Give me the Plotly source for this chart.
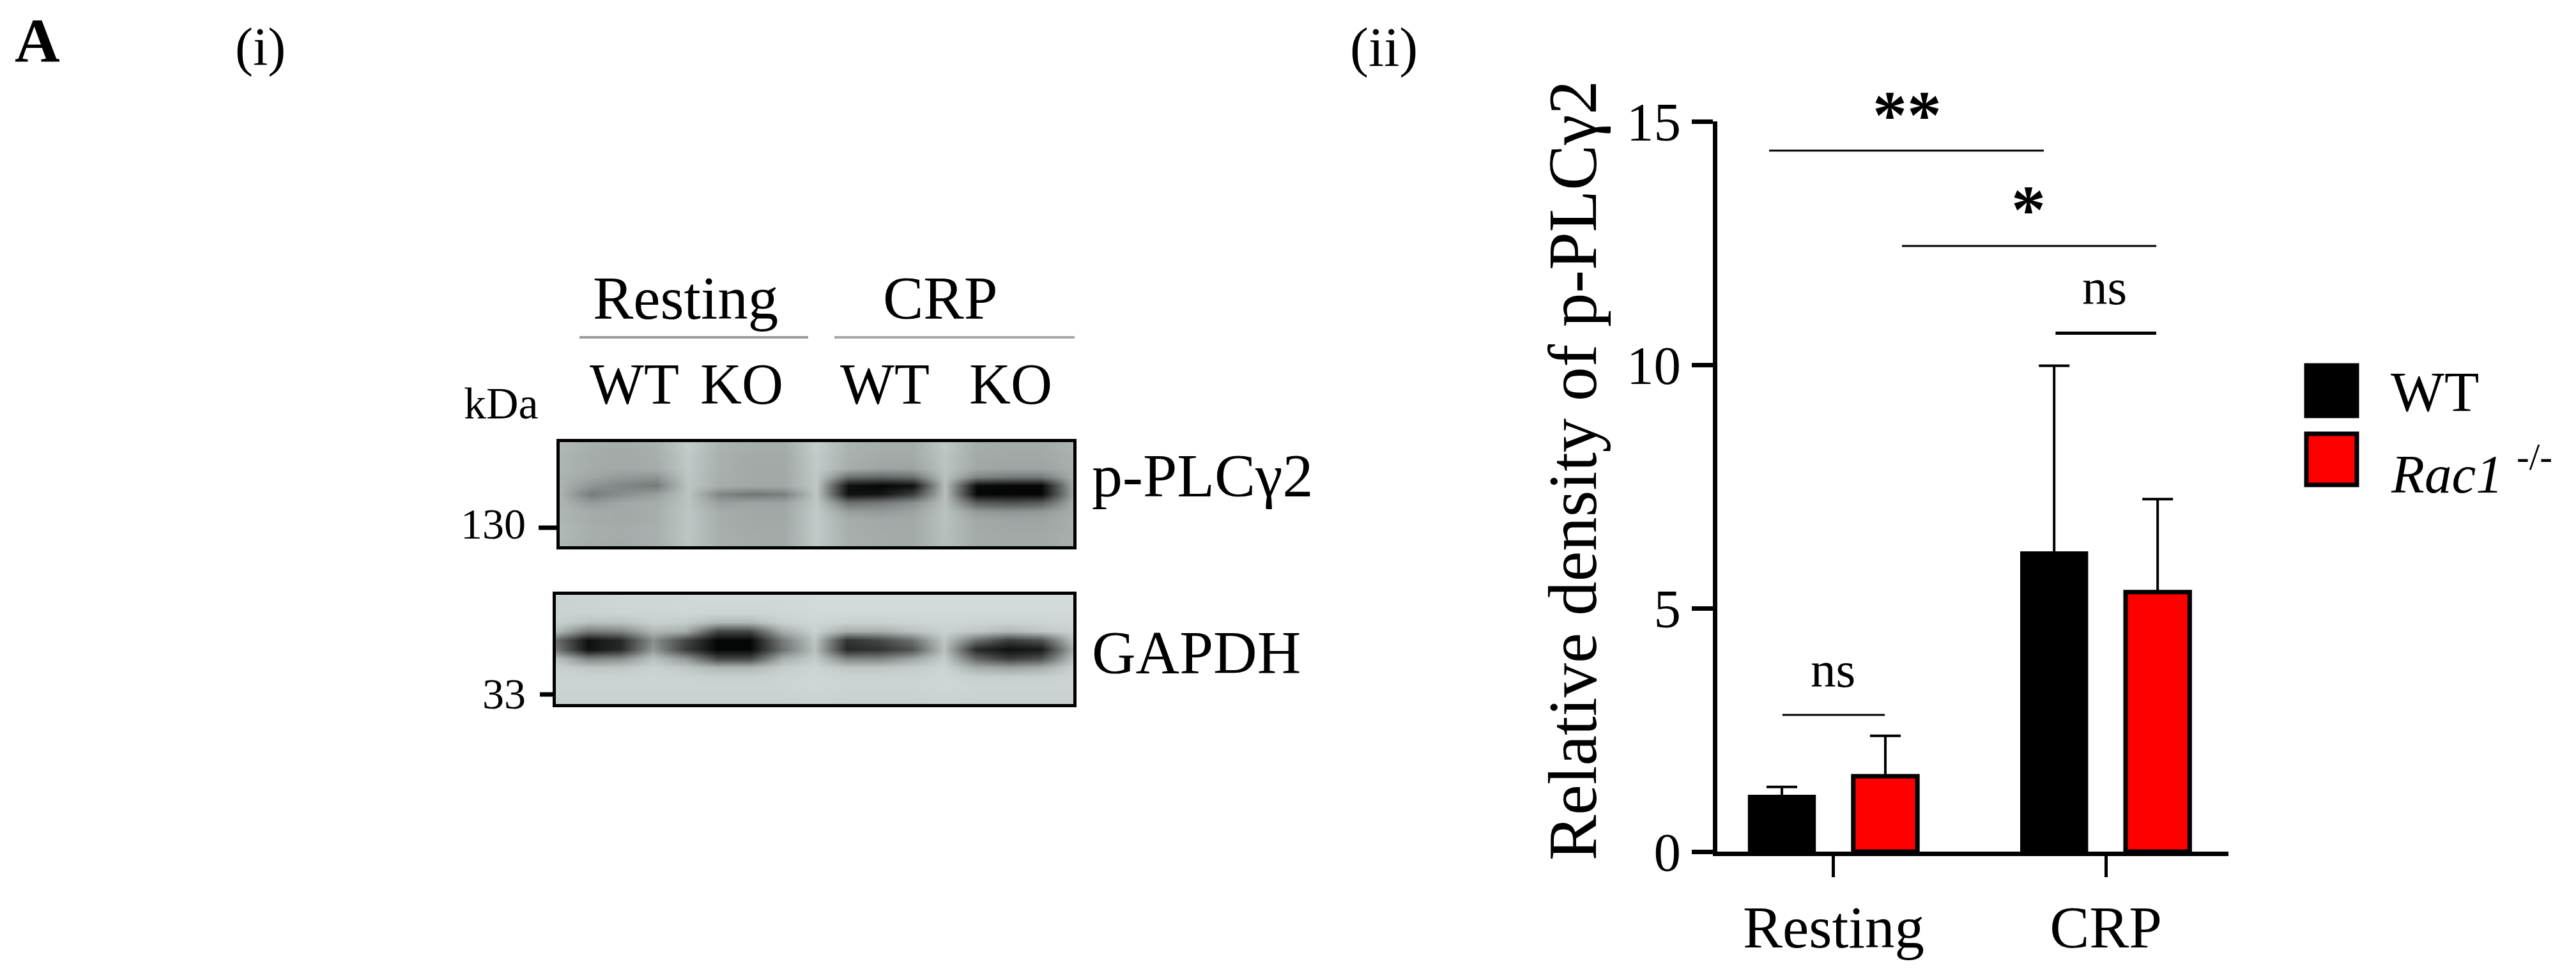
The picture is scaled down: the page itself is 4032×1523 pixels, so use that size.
import plotly.graph_objects as go

W, H = 4032, 1523

# ---- bar chart data ----
groups = ["Resting", "CRP"]
wt_values = [1.13, 6.13]
wt_errors = [0.20, 3.85]
ko_values = [1.55, 5.33]
ko_errors = [0.83, 1.91]
y_ticks = [0, 5, 10, 15]

# significance brackets: start x, end x (in group units), height, label
sig_x0 = [-0.237, 0.251, 0.815, -0.188]
sig_x1 = [0.772, 1.185, 1.185, 0.188]
sig_y = [14.4, 12.44, 10.65, 2.81]
sig_labels = ["**", "*", "ns", "ns"]

# ---- western blot densitometry (grey level, 17 columns x 13 rows) ----
blot_pplc = [
    [182,172,170,174,200,176,170,170,202,176,170,170,196,170,168,168,176],
    [180,170,165,172,198,174,168,168,200,174,168,168,194,168,166,166,174],
    [178,168,166,170,196,172,166,166,198,172,166,166,192,166,164,164,172],
    [178,168,164,168,196,172,166,166,198,170,160,160,192,164,160,160,172],
    [176,162,150,145,194,170,165,165,196,110,100,110,190,130,120,120,170],
    [176,145,130,120,194,170,165,165,196, 15,  5, 15,188, 10,  5,  5,165],
    [176,120,140,155,192,130,115,125,194, 15, 20, 60,188,  5,  5,  5,160],
    [178,150,165,168,192,155,160,160,196,110,120,140,188, 90, 80, 90,168],
    [178,168,165,170,194,168,165,165,198,155,150,160,190,150,145,150,170],
    [178,168,165,170,194,170,165,165,198,170,165,165,190,165,162,162,170],
    [180,170,168,172,194,170,166,166,198,170,166,166,188,166,164,164,170],
    [180,170,168,172,194,172,168,166,198,172,168,166,188,168,166,166,172],
    [178,168,166,170,192,170,166,166,196,170,166,166,186,166,164,164,170],
]
blot_gapdh = [
    [206,208,210,210,212,212,212,212,214,214,214,214,214,214,214,214,214],
    [206,208,210,210,212,212,212,212,214,214,214,214,214,214,214,214,214],
    [206,206,208,208,210,208,208,210,212,212,212,212,212,212,212,212,212],
    [204,190,190,204,200,180,180,204,210,205,205,208,210,208,205,208,210],
    [185,120,130,180,170, 70, 70,170,205,170,170,190,205,195,180,195,205],
    [110, 15, 40,140, 70,  5,  5,120,195, 50, 70,110,195,110, 60, 80,190],
    [120, 15, 40,150, 60,  5,  5,110,190, 40, 50, 80,190, 40, 15, 25,170],
    [190,130,140,190,150, 70, 70,170,200,130,130,160,200,100, 60, 80,190],
    [205,195,195,205,195,180,180,200,208,195,195,200,208,170,160,170,205],
    [208,206,206,208,206,202,202,206,210,206,206,206,210,202,200,202,208],
    [208,208,208,208,208,208,208,208,210,208,208,208,210,208,208,208,208],
    [206,206,206,206,206,206,206,206,208,206,206,206,208,206,206,206,206],
    [204,204,204,204,204,204,204,204,206,204,204,204,206,204,204,204,204],
]

FONT = "Liberation Serif"
BLACK = "#000000"
RED = "#ff0000"

def px(x):
    return x / W

def py(y):
    return 1 - y / H

fig = go.Figure()

# ---- bars ----
fig.add_trace(go.Bar(
    name="WT", x=groups, y=wt_values,
    marker=dict(color=BLACK, line=dict(color=BLACK, width=6)),
    error_y=dict(type="data", array=wt_errors, symmetric=False, arrayminus=[0, 0],
                 color=BLACK, thickness=4, width=24),
))
fig.add_trace(go.Bar(
    name="Rac1 -/-", x=groups, y=ko_values,
    marker=dict(color=RED, line=dict(color=BLACK, width=7)),
    error_y=dict(type="data", array=ko_errors, symmetric=False, arrayminus=[0, 0],
                 color=BLACK, thickness=4, width=24),
))

# ---- blots ----
BLOT_SCALE = [[0, "#000000"], [1, "#e1ebe9"]]
fig.add_trace(go.Heatmap(z=blot_pplc, xaxis="x2", yaxis="y2", zmin=0, zmax=230,
                         colorscale=BLOT_SCALE, zsmooth="best", showscale=False, hoverinfo="skip"))
fig.add_trace(go.Heatmap(z=blot_gapdh, xaxis="x3", yaxis="y3", zmin=0, zmax=230,
                         colorscale=BLOT_SCALE, zsmooth="best", showscale=False, hoverinfo="skip"))

def blot_axes(left, right, top, bottom, yanchor, xanchor):
    common = dict(showline=True, mirror=True, linecolor=BLACK, linewidth=5, automargin=False,
                  showticklabels=False, ticks="", showgrid=False, zeroline=False)
    xa = dict(domain=[px(left), px(right)], range=[0, 16], anchor=yanchor, **common)
    ya = dict(domain=[py(bottom), py(top)], range=[12, 0], anchor=xanchor, **common)
    return xa, ya

xa2, ya2 = blot_axes(876, 1680, 692, 855, "y2", "x2")
xa3, ya3 = blot_axes(870, 1680, 931, 1102, "y3", "x3")

shapes = []
annotations = []

def line(x0, y0, x1, y1, width, color=BLACK):
    shapes.append(dict(type="line", xref="paper", yref="paper",
                       x0=px(x0), x1=px(x1), y0=py(y0), y1=py(y1),
                       line=dict(color=color, width=width)))

def rect(x0, y0, x1, y1, fill, lw=7):
    shapes.append(dict(type="rect", xref="paper", yref="paper",
                       x0=px(x0), x1=px(x1), y0=py(y0), y1=py(y1),
                       fillcolor=fill, line=dict(color=BLACK, width=lw)))

def text(s, x, baseline, size, anchor="center", angle=0, bold=False, family=FONT):
    label = f"<b>{s}</b>" if bold else s
    annotations.append(dict(text=label, xref="paper", yref="paper",
                            x=px(x), y=py(baseline + 0.216 * size + 1),
                            xanchor=anchor, yanchor="bottom", showarrow=False,
                            textangle=angle, font=dict(family=family, size=size, color=BLACK)))

# significance brackets, drawn in the chart's own scales
for x0, x1, y, wd in zip(sig_x0, sig_x1, sig_y, [3, 3, 5, 3]):
    shapes.append(dict(type="line", xref="x", yref="y", x0=x0, x1=x1, y0=y, y1=y,
                       line=dict(color=BLACK, width=wd)))

# blot decorations
line(907, 528, 1265, 528, 4, "#9c9c9c")
line(1306, 528, 1682, 528, 4, "#a8a8a8")
line(843, 826, 874, 826, 7)
line(845, 1087, 868, 1087, 7)

# panel labels
text("A", 58, 97, 98, bold=True)
text("(i)", 407, 104, 84)
text("(ii)", 2166, 104, 87)

# blot text
text("Resting", 1073, 500, 95)
text("CRP", 1472, 500, 95)
text("WT", 993, 633, 90)
text("KO", 1161, 633, 90)
text("WT", 1385, 633, 90)
text("KO", 1582, 633, 90)
text("kDa", 784, 656, 70)
text("130", 825, 844, 68, anchor="right")
text("33", 825, 1110, 68, anchor="right")
text("p-PLCγ2", 1707, 778, 96, anchor="left")
text("GAPDH", 1707, 1055, 95, anchor="left")

# chart text
annotations.append(dict(text="Relative density of p-PLCγ2", xref="paper", yref="paper",
                        x=px(2462), y=py(737), xanchor="center", yanchor="middle",
                        showarrow=False, textangle=-90,
                        font=dict(family=FONT, size=107, color=BLACK)))
text(sig_labels[0], 2985, 218, 108, bold=True)
text(sig_labels[1], 3175, 366, 108, bold=True)
text(sig_labels[2], 3294, 477, 79)
text(sig_labels[3], 2869, 1076, 79)

# legend
rect(3610, 572, 3689, 651, BLACK)
rect(3610, 679, 3689, 759, RED)
text("WT", 3740, 644, 89, anchor="left")
text("<i>Rac1</i> <sup>-/-</sup>", 3740, 772, 85, anchor="left")

fig.update_layout(
    width=W, height=H, autosize=False,
    margin=dict(l=0, r=0, t=0, b=0),
    paper_bgcolor="white", plot_bgcolor="white",
    showlegend=False,
    barmode="group", bargap=0.24, bargroupgap=0.38,
    font=dict(family=FONT, color=BLACK),
    xaxis=dict(domain=[px(2688), px(3488)], range=[-0.427, 1.45], type="category",
               categoryorder="array", categoryarray=groups, automargin=False,
               showline=True, linecolor=BLACK, linewidth=7, ticks="outside", ticklen=33,
               tickwidth=5, tickcolor=BLACK, showgrid=False, zeroline=False,
               tickfont=dict(family=FONT, size=93, color=BLACK), ticklabelstandoff=-2),
    yaxis=dict(domain=[py(1333), py(190)], range=[0, 15], tickvals=y_ticks, automargin=False,
               showline=True, linecolor=BLACK, linewidth=7, ticks="outside", ticklen=33,
               tickwidth=7, tickcolor=BLACK, showgrid=False, zeroline=False,
               tickfont=dict(family=FONT, size=85, color=BLACK), ticklabelstandoff=0),
    xaxis2=xa2, yaxis2=ya2, xaxis3=xa3, yaxis3=ya3,
    shapes=shapes, annotations=annotations,
)

fig.write_html("out.html", config={"displayModeBar": False},
               post_script="document.body.style.margin='0';document.documentElement.style.overflow='hidden';")
